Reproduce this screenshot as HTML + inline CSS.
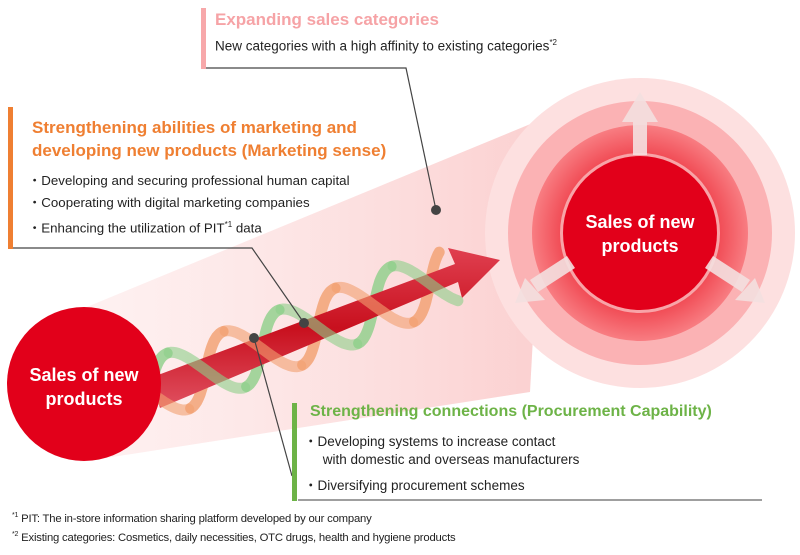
<!DOCTYPE html>
<html><head><meta charset="utf-8"><style>
body{margin:0;width:800px;height:555px;background:#fff;font-family:"Liberation Sans",sans-serif;position:relative;overflow:hidden}
.t{position:absolute;white-space:nowrap}
</style></head><body>
<svg width="800" height="555" style="position:absolute;left:0;top:0">
<defs>
<linearGradient id="cone" x1="0" y1="0" x2="1" y2="0"><stop offset="0" stop-color="#fde6e6" stop-opacity=".5"/><stop offset="1" stop-color="#fbd0d0"/></linearGradient>
<linearGradient id="arr" x1="0" y1="0" x2="0" y2="1"><stop offset="0" stop-color="#e04050"/><stop offset=".5" stop-color="#c8101e"/><stop offset="1" stop-color="#e05060"/></linearGradient>
<radialGradient id="ring" cx=".5" cy=".5" r=".5"><stop offset=".7" stop-color="#f04650"/><stop offset="1" stop-color="#f87d82"/></radialGradient>
</defs>
<polygon points="60,318 545,118 530,392 80,462" fill="url(#cone)"/>
<circle cx="640" cy="233" r="155" fill="#fde0e0"/>
<circle cx="640" cy="233" r="132" fill="#fbb2b4"/>
<circle cx="640" cy="233" r="108" fill="url(#ring)"/>
<circle cx="640" cy="233" r="80" fill="#fde0e0" opacity=".6"/>
<circle cx="640" cy="233" r="77" fill="#e2001a"/>
<g fill="#f4e0e0" opacity=".9">
<rect x="633" y="120" width="14" height="35"/><polygon points="622,122 658,122 640,92"/>
<polygon points="705,268 713,256 750,280 742,292"/><polygon points="735,300 765,303 755,278"/>
<polygon points="575,268 567,256 530,280 538,292"/><polygon points="545,300 515,303 525,278"/>
</g>
<g id="hx" fill="none" stroke-width="11" stroke-linecap="round" opacity=".8"></g>
<polygon points="150,378 455,264 448,248 500,260 462,298 458,282 160,408" fill="url(#arr)"/>
<g id="hx2" fill="none" stroke-width="11" stroke-linecap="round" opacity=".6"></g>
<circle cx="84" cy="384" r="77" fill="#e2001a"/>
<g stroke="#444" stroke-width="1.2" fill="none">
<polyline points="205,68 406,68 436,210"/>
<polyline points="8,248 252,248 304,323"/>
<polyline points="254,338 292,476"/>
<line x1="298" y1="500" x2="762" y2="500" stroke="#666"/>
</g>
<circle cx="436" cy="210" r="5" fill="#444"/>
<circle cx="304" cy="323" r="5" fill="#444"/>
<circle cx="254" cy="338" r="5" fill="#444"/>
<rect x="201" y="8" width="5" height="61" fill="#f7a8aa"/>
<rect x="8" y="107" width="5" height="142" fill="#ef7f32"/>
<rect x="292" y="403" width="5" height="98" fill="#6db347"/>
</svg>
<script>
(function(){
var ns="http://www.w3.org/2000/svg";
var x0=150,y0=392,ux=0.933,uy=-0.361,nx=0.361,ny=0.933,L=320,A=30,P=120;
function strand(ph,col,g,front){
 var d="";var prevFront=null;
 for(var s=0;s<=L;s+=2){
  var a=2*Math.PI*s/P+ph;var o=A*Math.sin(a);var f=Math.cos(a)>0;
  var x=x0+ux*s+nx*o,y=y0+uy*s+ny*o;
  if(f===front){d+=(prevFront===front?"L":"M")+x.toFixed(1)+","+y.toFixed(1);}
  prevFront=f;
 }
 var p=document.createElementNS(ns,"path");p.setAttribute("d",d);p.setAttribute("stroke",col);g.appendChild(p);
}
var g1=document.getElementById("hx"),g2=document.getElementById("hx2");
strand(0,"#f3a070",g1,false);strand(Math.PI,"#8ed08a",g1,false);
strand(0,"#f3a070",g2,true);strand(Math.PI,"#8ed08a",g2,true);
})();
</script>
<div class="t" style="left:215px;top:10px;font-size:17px;font-weight:bold;color:#f6a3a6">Expanding sales categories</div>
<div class="t" style="left:215px;top:38px;font-size:13.5px;color:#222">New categories with a high affinity to existing categories<sup style="font-size:8px">*2</sup></div>
<div class="t" style="left:32px;top:116px;font-size:17px;font-weight:bold;color:#ef7f32;line-height:23px">Strengthening abilities of marketing and<br>developing new products (Marketing sense)</div>
<div class="t" style="left:28px;top:170px;font-size:13.3px;color:#222;line-height:22px">・Developing and securing professional human capital<br>・Cooperating with digital marketing companies<br>・Enhancing the utilization of PIT<sup style="font-size:8px">*1</sup> data</div>
<div class="t" style="left:310px;top:403px;font-size:16px;font-weight:bold;color:#6db347">Strengthening connections (Procurement Capability)</div>
<div class="t" style="left:304px;top:433px;font-size:13.5px;color:#222;line-height:18px">・Developing systems to increase contact<br>&nbsp;&nbsp;&nbsp;&nbsp;&nbsp;with domestic and overseas manufacturers</div>
<div class="t" style="left:304px;top:474px;font-size:13.5px;color:#222">・Diversifying procurement schemes</div>
<div class="t" style="left:12px;top:508px;font-size:11.3px;color:#222;line-height:15px;letter-spacing:-0.2px"><sup style="font-size:7px">*1</sup> PIT: The in-store information sharing platform developed by our company<br><sup style="font-size:7px">*2</sup> Existing categories: Cosmetics, daily necessities, OTC drugs, health and hygiene products</div>
<div class="t" style="left:7px;top:363px;width:154px;text-align:center;font-size:18px;font-weight:bold;color:#fff;line-height:24px">Sales of new<br>products</div>
<div class="t" style="left:563px;top:210px;width:154px;text-align:center;font-size:18px;font-weight:bold;color:#fff;line-height:24px">Sales of new<br>products</div>
</body></html>
